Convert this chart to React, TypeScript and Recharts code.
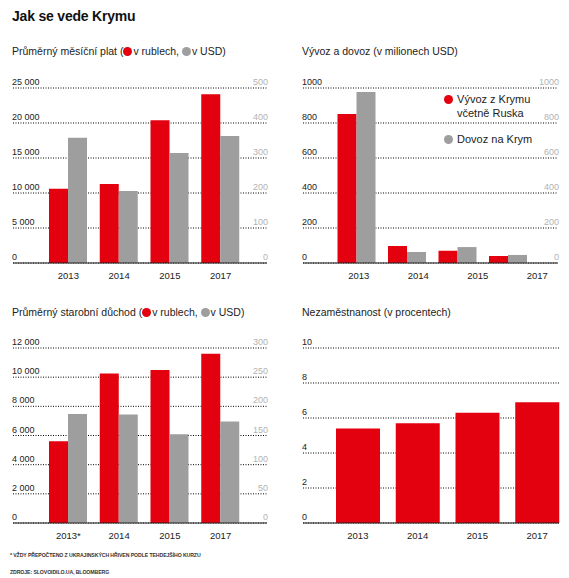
import { BarChart, Bar, XAxis, YAxis, CartesianGrid } from 'recharts';

const RED = '#e3000f';
const GRAY = '#9e9e9e';
const FONT = '"Liberation Sans", Arial, sans-serif';

// data
const years = ['2013', '2014', '2015', '2017'];
const pensionYears = ['2013*', '2014', '2015', '2017'];
const salaryRub = [10600, 11300, 20400, 24100];
const salaryUsd = [358, 206, 314, 363];
const exportMil = [851, 97, 70, 40];
const importMil = [977, 63, 91, 46];
const pensionRub = [5600, 10250, 10500, 11600];
const pensionUsd = [187, 186, 152, 174];
const unemployment = [5.4, 5.7, 6.3, 6.9];

const salaryTicksL = [0, 5000, 10000, 15000, 20000, 25000];
const salaryTicksR = [0, 100, 200, 300, 400, 500];
const tradeTicks = [0, 200, 400, 600, 800, 1000];
const pensionTicksL = [0, 2000, 4000, 6000, 8000, 10000, 12000];
const pensionTicksR = [0, 50, 100, 150, 200, 250, 300];
const unempTicks = [0, 2, 4, 6, 8, 10];

const salaryData = years.map((y, i) => ({ year: y, rub: salaryRub[i], usd: salaryUsd[i] }));
const tradeData = years.map((y, i) => ({ year: y, exp: exportMil[i], imp: importMil[i] }));
const pensionData = pensionYears.map((y, i) => ({ year: y, rub: pensionRub[i], usd: pensionUsd[i] }));
const unempData = years.map((y, i) => ({ year: y, val: unemployment[i] }));

const spaced = (v: number) => v.toLocaleString('en-US').replace(/,/g, ' ');
const plain = (v: number) => String(v);

// x positions are in the chart's own svg coordinates
const leftTick = (xPos: number, fmt: (v: number) => string) => (p: any) => (
    <text key={p.index} x={xPos} y={p.y - 3} fontSize={9} fill="#222" textAnchor="start" fontFamily={FONT}>
        {fmt(p.payload.value)}
    </text>
);

const rightTick = (xPos: number) => (p: any) => (
    <text key={p.index} x={xPos} y={p.y - 3} fontSize={9} fill="#b3b3b3" textAnchor="end" fontFamily={FONT}>
        {p.payload.value}
    </text>
);

// baseline sits 16px under the zero line (plot bottom is at 193 in every chart)
const yearTick = (p: any) => (
    <text key={p.index} x={p.x} y={209} fontSize={9.5} fill="#222" textAnchor="middle" fontFamily={FONT}>
        {p.payload.value}
    </text>
);

const Dot = ({ color }: { color: string }) => (
    <span style={{ display: 'inline-block', width: 9, height: 9, borderRadius: '50%', background: color, verticalAlign: -1, marginRight: 1 }} />
);

const sub: React.CSSProperties = { position: 'absolute', fontSize: 10.5, color: '#222', whiteSpace: 'nowrap', lineHeight: '14px' };
const grid = { strokeDasharray: '1 1.5', stroke: '#000', vertical: false };
const chartMarginL = { top: 18, right: 17, left: 12, bottom: 7 };
const chartMarginR = { top: 18, right: 10, left: 17, bottom: 7 };
const baseLine = { stroke: '#222', strokeWidth: 1.2 };
const foot: React.CSSProperties = { position: 'absolute', left: 10, fontSize: 5.2, fontWeight: 700, color: '#333', whiteSpace: 'nowrap', letterSpacing: -0.1 };

export default function App() {
    return (
        <div style={{ position: 'absolute', left: 0, top: 0, width: 569, height: 578, background: '#fff', fontFamily: FONT, overflow: 'hidden' }}>
            <div style={{ position: 'absolute', left: 12, top: 8, fontSize: 14, fontWeight: 700, color: '#111', letterSpacing: -0.2 }}>Jak se vede Krymu</div>

            {/* salary */}
            <div style={{ ...sub, left: 12, top: 44 }}>
                Průměrný měsíční plat (<Dot color={RED} />v rublech, <Dot color={GRAY} />v USD)
            </div>
            <div style={{ position: 'absolute', left: 0, top: 70 }}>
                <BarChart width={285} height={220} data={salaryData} margin={chartMarginL} barCategoryGap={6} barGap={0}>
                    <CartesianGrid {...grid} yAxisId="l" />
                    <XAxis dataKey="year" padding={{ left: 30, right: 21 }} tickLine={false} axisLine={baseLine} tick={yearTick} height={20} interval={0} />
                    <YAxis yAxisId="l" width={1} domain={[0, 25000]} ticks={salaryTicksL} interval={0} axisLine={false} tickLine={false} tick={leftTick(12, spaced)} />
                    <YAxis yAxisId="r" orientation="right" width={1} domain={[0, 500]} ticks={salaryTicksR} interval={0} axisLine={false} tickLine={false} tick={rightTick(268)} />
                    <Bar yAxisId="l" dataKey="rub" fill={RED} isAnimationActive={false} />
                    <Bar yAxisId="r" dataKey="usd" fill={GRAY} isAnimationActive={false} />
                </BarChart>
            </div>

            {/* trade */}
            <div style={{ ...sub, left: 302, top: 44 }}>Vývoz a dovoz (v milionech USD)</div>
            <div style={{ position: 'absolute', left: 285, top: 70 }}>
                <BarChart width={284} height={220} data={tradeData} margin={chartMarginR} barCategoryGap={6.5} barGap={0}>
                    <CartesianGrid {...grid} xAxisId="lab" yAxisId="l" />
                    <XAxis xAxisId="lab" dataKey="year" padding={{ left: 26, right: -9 }} tickLine={false} axisLine={baseLine} tick={yearTick} height={20} interval={0} />
                    <XAxis xAxisId="bars" dataKey="year" padding={{ left: 28, right: 25 }} height={0} tick={false} axisLine={false} tickLine={false} />
                    <YAxis yAxisId="l" width={1} domain={[0, 1000]} ticks={tradeTicks} interval={0} axisLine={false} tickLine={false} tick={leftTick(17, plain)} />
                    <YAxis yAxisId="r" orientation="right" width={1} domain={[0, 1000]} ticks={tradeTicks} interval={0} axisLine={false} tickLine={false} tick={rightTick(274)} />
                    <Bar xAxisId="bars" yAxisId="l" dataKey="exp" fill={RED} isAnimationActive={false} />
                    <Bar xAxisId="bars" yAxisId="r" dataKey="imp" fill={GRAY} isAnimationActive={false} />
                </BarChart>
            </div>
            <div style={{ position: 'absolute', left: 444, top: 92, fontSize: 11, color: '#222', lineHeight: '14px' }}>
                <div><Dot color={RED} /> Vývoz z Krymu</div>
                <div style={{ paddingLeft: 13 }}>včetně Ruska</div>
                <div style={{ marginTop: 12 }}><Dot color={GRAY} /> Dovoz na Krym</div>
            </div>

            {/* pension */}
            <div style={{ ...sub, left: 12, top: 305 }}>
                Průměrný starobní důchod (<Dot color={RED} />v rublech, <Dot color={GRAY} />v USD)
            </div>
            <div style={{ position: 'absolute', left: 0, top: 330 }}>
                <BarChart width={285} height={220} data={pensionData} margin={chartMarginL} barCategoryGap={6} barGap={0}>
                    <CartesianGrid {...grid} yAxisId="l" />
                    <XAxis dataKey="year" padding={{ left: 30, right: 21 }} tickLine={false} axisLine={baseLine} tick={yearTick} height={20} interval={0} />
                    <YAxis yAxisId="l" width={1} domain={[0, 12000]} ticks={pensionTicksL} interval={0} axisLine={false} tickLine={false} tick={leftTick(12, spaced)} />
                    <YAxis yAxisId="r" orientation="right" width={1} domain={[0, 300]} ticks={pensionTicksR} interval={0} axisLine={false} tickLine={false} tick={rightTick(268)} />
                    <Bar yAxisId="l" dataKey="rub" fill={RED} isAnimationActive={false} />
                    <Bar yAxisId="r" dataKey="usd" fill={GRAY} isAnimationActive={false} />
                </BarChart>
            </div>

            {/* unemployment */}
            <div style={{ ...sub, left: 302, top: 305 }}>Nezaměstnanost (v procentech)</div>
            <div style={{ position: 'absolute', left: 285, top: 330 }}>
                <BarChart width={284} height={220} data={unempData} margin={chartMarginR} barCategoryGap={8}>
                    <CartesianGrid {...grid} yAxisId="l" />
                    <XAxis dataKey="year" padding={{ left: 25, right: -8 }} tickLine={false} axisLine={baseLine} tick={yearTick} height={20} interval={0} />
                    <YAxis yAxisId="l" width={1} domain={[0, 10]} ticks={unempTicks} interval={0} axisLine={false} tickLine={false} tick={leftTick(17, plain)} />
                    <Bar yAxisId="l" dataKey="val" fill={RED} isAnimationActive={false} />
                </BarChart>
            </div>

            <div style={{ ...foot, top: 552 }}>* VŽDY PŘEPOČTENO Z UKRAJINSKÝCH HŘIVEN PODLE TEHDEJŠÍHO KURZU</div>
            <div style={{ ...foot, top: 569 }}>ZDROJE: SLOVOIDILO.UA, BLOOMBERG</div>
        </div>
    );
}
